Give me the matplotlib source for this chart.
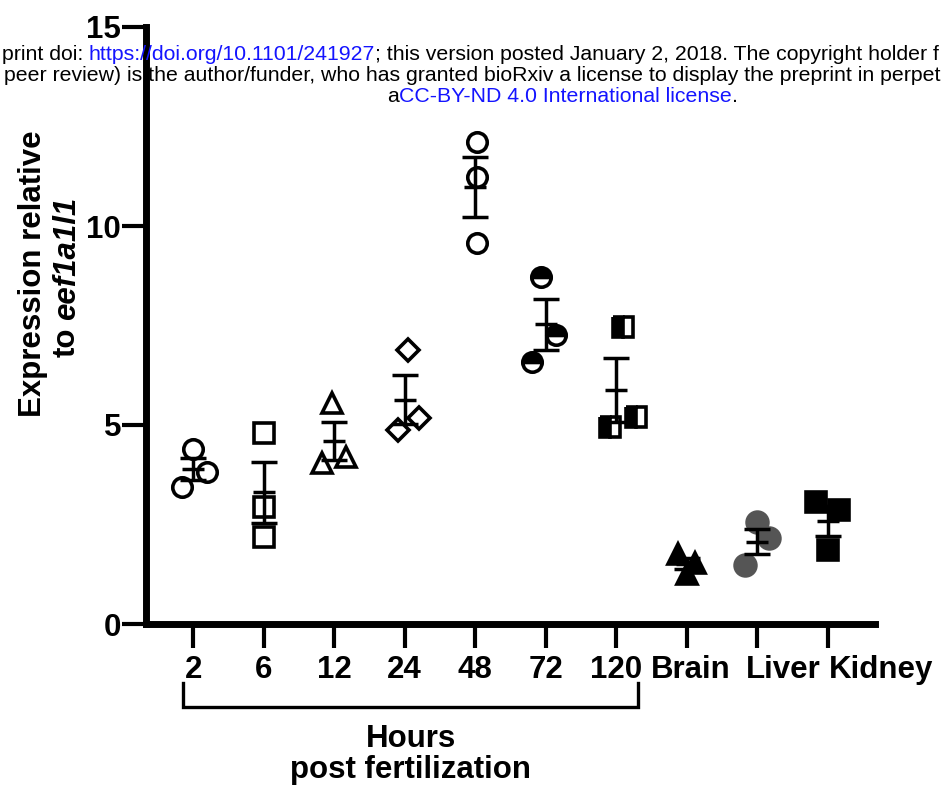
import matplotlib
matplotlib.use("Agg")
import numpy as np
import matplotlib.pyplot as plt
from matplotlib.transforms import ScaledTranslation

plt.rcParams['font.family'] = ['Liberation Sans', 'DejaVu Sans']

# ---- data ----
groups = ['2', '6', '12', '24', '48', '72', '120', 'Brain', 'Liver', 'Kidney']
hpf_2 = [3.45, 4.40, 3.83]
hpf_6 = [4.79, 2.95, 2.19]
hpf_12 = [5.55, 4.05, 4.20]
hpf_24 = [6.88, 4.87, 5.17]
hpf_48 = [12.12, 11.24, 9.57]
hpf_72 = [8.73, 7.26, 6.59]
hpf_120 = [7.47, 5.21, 4.96]
brain = [1.77, 1.53, 1.26]
liver = [2.57, 2.15, 1.48]
kidney = [3.07, 2.86, 1.86]
values = [hpf_2, hpf_6, hpf_12, hpf_24, hpf_48, hpf_72, hpf_120, brain, liver, kidney]

# horizontal scatter of the replicate points (layout only)
jitter = [[-0.16, 0.0, 0.19], [0, 0, 0], [-0.03, -0.18, 0.16], [0.04, -0.10, 0.20],
          [0.02, 0.02, 0.02], [-0.07, 0.14, -0.19], [0.09, 0.28, -0.09],
          [-0.13, 0.11, 0.0], [0.0, 0.16, -0.17], [-0.17, 0.16, 0.0]]

# marker styles: (marker, size, facecolor, fillstyle, edgecolor)
styles = [('o', 14, 'none', 'full', 'black'),
          ('s', 14, 'none', 'full', 'black'),
          ('^', 15, 'none', 'full', 'black'),
          ('D', 11, 'none', 'full', 'black'),
          ('o', 14, 'none', 'full', 'black'),
          ('o', 14, 'black', 'top', 'black'),
          ('s', 14, 'black', 'left', 'black'),
          ('^', 15, 'black', 'full', 'black'),
          ('o', 15, '#555555', 'full', '#555555'),
          ('s', 15, 'black', 'full', 'black')]

W, H = 944, 796
fig = plt.figure(figsize=(W / 100, H / 100), dpi=100)
ax = fig.add_axes([146 / W, 1 - 624 / H, 729 / W, 597 / H])

for i, (vals, jit, st) in enumerate(zip(values, jitter, styles)):
    m, ms, fc, fs, ec = st
    xs = i + np.array(jit)
    ax.plot(xs, vals, linestyle='none', marker=m, markersize=ms, markerfacecolor=fc,
            fillstyle=fs, markerfacecoloralt='white', markeredgecolor=ec,
            markeredgewidth=2.6, zorder=3)
    mean = np.mean(vals)
    sem = np.std(vals, ddof=1) / np.sqrt(len(vals))
    ax.errorbar(i, mean, yerr=sem, fmt='none', ecolor='black', elinewidth=2.5,
                capsize=9.7, capthick=2.5, zorder=4)
    ax.hlines(mean, i - 0.155, i + 0.155, color='black', linewidth=2.5, zorder=4)

ax.set_xlim(-0.67, 9.67)
ax.set_ylim(0, 15)
ax.set_yticks([0, 5, 10, 15])
ax.set_xticks(range(len(groups)))

for s in ['top', 'right']:
    ax.spines[s].set_visible(False)
for s in ['left', 'bottom']:
    ax.spines[s].set_linewidth(5)
    ax.spines[s].set_capstyle('projecting')

ax.tick_params(axis='both', length=17, width=3, labelsize=22.5)
ax.tick_params(axis='x', pad=5)
ax.tick_params(axis='y', pad=1)
ax.set_xticklabels(groups, fontweight='bold')
ax.set_yticklabels(['0', '5', '10', '15'], fontweight='bold')

# tissue labels sit to the right of their ticks in the original
shift_px = [0, 0, 0, 0, 0, 0, 0, 4, 26, 53]
for lab, dx in zip(ax.get_xticklabels(), shift_px):
    lab.set_transform(lab.get_transform() + ScaledTranslation(dx / 100, 0, fig.dpi_scale_trans))

# bracket under the hpf groups
xt = ax.get_xaxis_transform()
ax.plot([-0.14, -0.14, 6.31, 6.31], [-0.0988, -0.139, -0.139, -0.0988], color='black',
        linewidth=2.4, transform=xt, clip_on=False, solid_joinstyle='miter')
ax.annotate('Hours', xy=(411, H - 747), xycoords='figure pixels', ha='center',
            va='baseline', fontsize=22.5, fontweight='bold')
ax.annotate('post fertilization', xy=(411, H - 778), xycoords='figure pixels',
            ha='center', va='baseline', fontsize=22.5, fontweight='bold')

# y label, two lines, gene name in italics
ax.annotate('Expression relative', xy=(33, H - 274), xycoords='figure pixels', rotation=90,
            ha='center', va='center', fontsize=22.5, fontweight='bold')
t_to = ax.annotate('to', xy=(67, H - 357), xycoords='figure pixels', rotation=90,
                   ha='center', va='bottom', fontsize=22.5, fontweight='bold')
ax.annotate('eef1a1l1', xy=(0.5, 1), xycoords=t_to, xytext=(0, 8), textcoords='offset pixels',
            rotation=90, ha='center', va='bottom', fontsize=22.5, fontweight='bold',
            fontstyle='italic')

# bioRxiv watermark across the top (only the part visible in the crop)
blue = '#1414ff'
fw = 15.3
t1 = ax.annotate('https://doi.org/10.1101/241927', xy=(89, H - 60), xycoords='figure pixels',
                 ha='left', va='baseline', fontsize=fw, color=blue)
ax.annotate('print doi:', xy=(83, H - 60), xycoords='figure pixels', ha='right',
            va='baseline', fontsize=fw, color='black')
ax.annotate('; this version posted January 2, 2018. The copyright holder f',
            xy=(1, 0), xycoords=t1, ha='left', va='bottom', fontsize=fw, color='black')
ax.annotate('peer review) is the author/funder, who has granted bioRxiv a license to display '
            'the preprint in perpet',
            xy=(4, H - 81), xycoords='figure pixels', ha='left', va='baseline',
            fontsize=fw, color='black')
t3 = ax.annotate('a', xy=(387, H - 102), xycoords='figure pixels', ha='left', va='baseline',
                 fontsize=fw, color='black')
t4 = ax.annotate('CC-BY-ND 4.0 International license', xy=(1, 0), xycoords=t3, ha='left',
                 va='bottom', fontsize=fw, color=blue)
ax.annotate('.', xy=(1, 0), xycoords=t4, ha='left', va='bottom', fontsize=fw, color='black')

fig.savefig('out.png', dpi=100)
